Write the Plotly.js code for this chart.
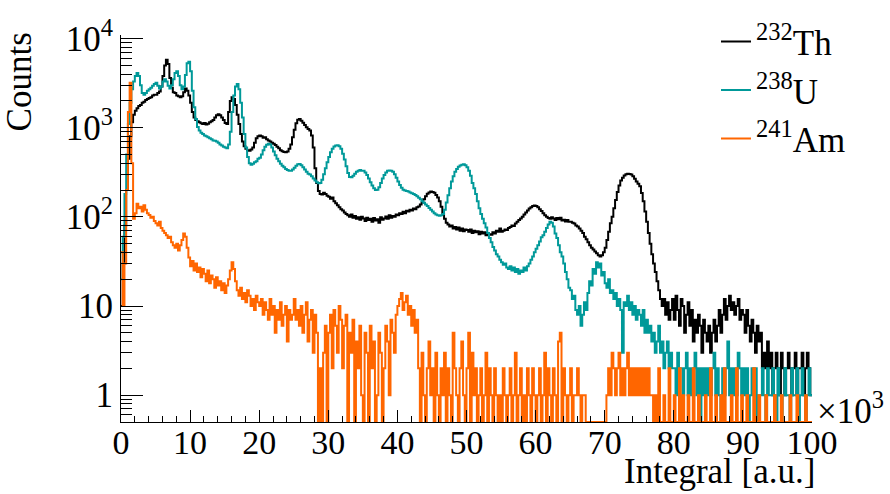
<!DOCTYPE html>
<html>
<head>
<meta charset="utf-8">
<script src="https://cdn.plot.ly/plotly-3.0.1.min.js"></script>
<style>html,body{margin:0;padding:0;background:#fff;}#chart{width:890px;height:494px;}</style>
</head>
<body>
<div id="chart"></div>
<script>
// Histograms: bin width 0.25 (x10^3), 400 bins from 0 to 100
const binStart = 0;
const binWidth = 0.25;
const seriesNames = ['<sup>232</sup>Th', '<sup>238</sup>U', '<sup>241</sup>Am'];

const countsTh = [
 10,30,80,200,450,800,1150,1400,1550,1650,1750,1800,1900,1950,2050,2100,2150,2200,2300,2350,
 2350,2450,2550,2900,3800,5000,5800,5200,3600,2800,2500,2450,2300,2250,2200,2250,2500,2750,2600,2300,
 1900,1500,1300,1220,1180,1150,1120,1100,1130,1090,1110,1150,1180,1220,1300,1380,1420,1380,1300,1220,
 1130,1100,1500,2000,2200,2100,1800,1400,1100,850,700,620,580,560,550,570,600,680,760,800,
 820,800,770,780,740,720,700,680,660,640,610,590,560,545,535,530,540,580,650,780,
 950,1120,1230,1250,1200,1140,1070,1010,970,930,820,600,350,240,195,180,178,186,180,172,
 168,160,165,150,142,135,128,122,118,112,108,104,100,106,98,102,95,99,93,100,
 96,90,98,92,95,88,97,91,94,86,99,93,96,101,95,104,98,102,100,106,
 104,110,108,114,110,117,115,120,118,124,122,128,131,138,145,158,170,182,188,192,
 190,186,176,165,150,130,110,95,86,82,78,80,74,77,72,76,70,74,69,72,
 71,68,72,66,70,67,69,64,68,65,67,62,66,64,63,67,65,70,68,74,
 68,70,72,71,75,77,80,79,84,88,92,96,100,106,112,118,124,128,132,134,
 132,128,122,116,110,104,100,97,95,99,96,92,97,94,98,91,93,89,92,88,
 88,86,84,80,78,74,70,66,60,56,52,48,45,43,41,39,37,36,37,40,
 45,55,68,85,100,125,155,190,225,255,275,292,300,305,303,298,285,268,250,235,
 220,185,150,115,88,66,50,38,30,24,19,15,12,10,12,8,11,7,9,12,
 7,13,9,6,12,10,5,8,11,6,9,4,7,5,8,6,3,7,5,4,
 6,3,5,7,4,6,9,5,8,12,7,10,13,9,11,8,10,12,7,9,
 8,5,9,6,4,7,5,3,6,4,5,2,3,2,4,2,3,1,2,3,
 2,1,3,2,1,2,3,2,1,2,3,1,2,2,3,1,2,3,2,1];

const countsU = [
 20,60,180,500,1100,1900,2700,3300,3800,4100,3800,3000,2450,2350,2450,2600,2700,2800,2950,3100,
 3200,2950,2750,2900,3300,3500,3300,2950,2750,3000,3500,4100,4300,3800,3000,2700,2900,3900,5300,5500,
 4300,2600,1700,1250,1020,930,880,850,820,800,780,760,740,720,715,700,680,650,630,610,
 600,590,650,900,1500,2300,2900,3100,2700,1900,1300,850,600,470,400,385,395,410,420,450,
 460,500,560,610,645,660,650,600,540,490,450,420,395,375,360,345,335,330,328,340,
 355,375,390,392,380,360,340,320,305,298,285,270,255,245,238,240,260,300,350,410,
 470,530,580,615,630,635,620,580,510,440,370,310,280,278,290,305,320,330,335,330,
 328,315,295,270,245,225,210,200,202,215,240,270,295,315,328,332,330,320,300,275,
 250,228,212,202,198,195,192,188,184,180,176,170,164,158,150,144,138,132,126,120,
 115,110,106,104,103,104,108,120,145,175,210,250,285,320,345,365,378,385,388,380,
 360,330,290,240,210,180,150,125,108,95,85,76,66,58,52,46,42,38,36,33,
 31,29,30,27,26,28,25,27,24,26,23,25,24,27,25,28,30,33,36,40,
 44,48,53,59,62,68,75,82,88,86,78,65,58,48,40,36,30,24,20,16,
 15,12,13,9,8,10,6,8,11,9,14,19,17,26,23,31,27,30,22,24,
 18,16,20,14,15,12,14,10,12,9,3,11,10,13,9,11,8,10,7,9,
 8,6,9,5,7,5,6,4,5,3,4,6,3,4,2,3,4,2,3,2,
 2,1,3,2,2,1,2,3,1,2,1,2,3,1,2,0,2,1,2,1,
 2,1,2,3,1,2,1,0,2,1,2,4,1,2,1,2,1,3,2,1,
 2,1,2,0,1,2,1,2,0,1,1,2,1,0,2,1,1,2,1,0,
 2,1,0,1,2,1,1,0,2,1,1,2,0,1,2,1,0,1,2,1];

const countsAm = [
 40,10,30,200,1500,3200,400,95,110,140,125,130,115,135,120,110,105,98,100,90,
 85,80,88,75,70,66,62,58,60,52,48,45,50,42,48,55,65,60,45,35,
 28,32,25,30,24,27,21,26,23,19,25,18,22,20,16,21,17,19,15,18,
 14,17,20,25,31,26,19,15,13,16,12,14,11,15,13,10,12,9,13,11,
 10,12,8,11,9,7,12,8,10,5,9,7,11,6,8,10,4,9,7,8,
 12,7,9,6,10,5,8,11,4,7,9,3,8,5,0,2,0,3,6,0,
 5,8,2,9,6,3,10,7,2,6,8,0,5,3,7,0,4,2,6,1,
 0,5,3,0,6,2,4,0,1,5,3,0,2,6,4,1,7,5,3,8,
 10,12,14,9,11,13,8,10,6,9,5,7,2,0,3,1,0,2,4,1,
 2,0,3,1,0,2,1,3,0,2,1,0,5,2,1,0,2,4,1,0,
 2,5,0,3,1,2,0,1,2,0,1,3,0,2,1,0,2,1,0,1,
 0,2,1,0,1,2,0,1,3,0,1,2,0,1,0,2,1,0,2,1,
 0,1,2,0,1,3,0,2,1,0,2,1,0,4,5,0,2,1,0,1,
 2,0,1,1,2,1,0,1,1,0,0,0,0,0,0,0,0,0,0,0,
 0,1,2,1,3,2,1,2,3,1,2,1,2,3,1,2,1,2,1,2,
 1,2,1,2,1,2,1,1,0,1,0,2,0,0,1,0,0,2,0,0,
 1,0,0,2,0,1,0,0,1,0,0,2,0,0,1,0,0,0,1,0,
 0,2,0,0,1,0,0,1,0,2,0,0,0,1,0,0,2,0,0,1,
 0,0,1,0,0,0,2,0,0,1,0,0,0,1,0,0,0,0,1,0,
 0,0,1,0,0,0,0,1,0,0,0,1,0,0,0,0,1,0,0,0];

const xTickVals = [0,10,20,30,40,50,60,70,80,90,100];
const xTickText = ['0','10','20','30','40','50','60','70','80','90','100'];
const yTickVals = [1,10,100,1000,10000];
const yTickText = ['1','10','10<sup>2</sup>','10<sup>3</sup>','10<sup>4</sup>'];

const colors = ['#000000', '#009999', '#ff6600'];
const yMin = 0.5;

function stepTrace(counts, name, color) {
  const x = [], y = [];
  counts.forEach((c, i) => {
    x.push(binStart + i * binWidth);
    y.push(c > 0 ? c : yMin); // empty bins drawn at the bottom edge, like ROOT
  });
  x.push(binStart + counts.length * binWidth);
  y.push(counts[counts.length - 1] > 0 ? counts[counts.length - 1] : yMin);
  return {x: x, y: y, type: 'scatter', mode: 'lines', name: name,
          line: {shape: 'hv', color: color, width: 2}};
}

const data = [
  stepTrace(countsTh, seriesNames[0], colors[0]),
  stepTrace(countsU, seriesNames[1], colors[1]),
  stepTrace(countsAm, seriesNames[2], colors[2]),
  // empty helper trace so that the title-only axis (y2) is laid out
  {x: [], y: [], type: 'scatter', mode: 'lines', yaxis: 'y2', showlegend: false, hoverinfo: 'skip'}
];

const minorY = [];
for (let d = -1; d <= 3; d++) {
  for (let m = 2; m <= 9; m++) {
    const v = m * Math.pow(10, d);
    if (v >= yMin) minorY.push(v);
  }
}

const FONT = '"Liberation Serif", "Times New Roman", serif';
const W = 890, H = 494, L = 121, R = 78, T = 13, B = 72;
const pw = W - L - R, ph = H - T - B;
const px = v => (v - L) / pw;
const py = v => (H - B - v) / ph;

const layout = {
  width: W, height: H,
  margin: {l: L, r: R, t: T, b: B, pad: 0},
  paper_bgcolor: '#ffffff', plot_bgcolor: 'rgba(0,0,0,0)',
  font: {family: FONT, size: 32, color: '#000'},
  showlegend: true,
  legend: {x: px(716), y: py(-11), xanchor: 'left', yanchor: 'top',
           bgcolor: 'rgba(0,0,0,0)', font: {family: FONT, size: 35, color: '#000'},
           itemwidth: 30, tracegroupgap: 0},
  xaxis: {range: [0, 100], showgrid: false, zeroline: false, showline: true,
          linecolor: '#000', linewidth: 1, ticks: 'inside', ticklen: 12, tickwidth: 1,
          tickcolor: '#000', tickmode: 'array', tickvals: xTickVals, ticktext: xTickText,
          tickfont: {family: FONT, size: 34, color: '#000'}, ticklabeloverflow: 'allow',
          ticklabelstandoff: -10,
          minor: {ticks: 'inside', ticklen: 6, tickwidth: 1, tickcolor: '#000',
                  tickmode: 'linear', tick0: 0, dtick: 2, showgrid: false},
          title: {text: ''}},
  yaxis: {type: 'log', range: [Math.log10(yMin), 4.04], showgrid: false, zeroline: false,
          showline: true, linecolor: '#000', linewidth: 1, ticks: 'inside', ticklen: 22,
          tickwidth: 1, tickcolor: '#000', tickmode: 'array', tickvals: yTickVals,
          ticktext: yTickText, tickfont: {family: FONT, size: 35, color: '#000'},
          ticklabeloverflow: 'allow',
          minor: {ticks: 'inside', ticklen: 11, tickwidth: 1, tickcolor: '#000',
                  tickmode: 'array', tickvals: minorY, showgrid: false},
          title: {text: ''}},
  yaxis2: {domain: [py(112), py(13)], anchor: 'free', position: 0, side: 'left',
           range: [0, 1], showline: false, ticks: '', showticklabels: false,
           showgrid: false, zeroline: false, fixedrange: true,
           title: {text: 'Counts', standoff: 77, font: {family: FONT, size: 35, color: '#000'}}},
  annotations: [
    {text: 'Integral [a.u.]', xref: 'paper', yref: 'paper', x: px(817), y: py(474),
     xanchor: 'right', yanchor: 'middle', showarrow: false,
     font: {family: FONT, size: 35, color: '#000'}},
    {text: '\u00d710<sup>3</sup>', xref: 'paper', yref: 'paper', x: px(815), y: py(408),
     xanchor: 'left', yanchor: 'middle', showarrow: false,
     font: {family: FONT, size: 35, color: '#000'}}
  ]
};

Plotly.newPlot('chart', data, layout, {displayModeBar: false, staticPlot: true});
</script>
</body>
</html>
